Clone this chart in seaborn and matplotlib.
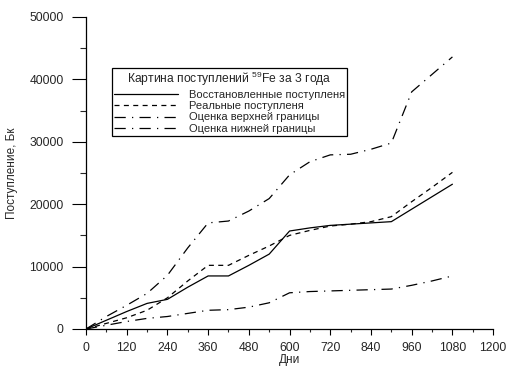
import pandas as pd
import matplotlib
matplotlib.use('Agg')
import matplotlib.pyplot as plt
import seaborn as sns
from matplotlib.ticker import MultipleLocator

# Data
days = [0, 60, 120, 180, 240, 300, 360, 420, 480, 540, 600,
        660, 720, 780, 840, 900, 960, 1020, 1080]
restored = [0, 1400, 2800, 4100, 4750, 6700, 8500, 8500, 10200, 12000, 15700,
            16200, 16600, 16800, 17000, 17200, 19200, 21200, 23200]
real = [0, 900, 1800, 3000, 5000, 7700, 10200, 10200, 11800, 13300, 15000,
        15800, 16500, 16800, 17200, 18000, 20400, 22700, 25100]
upper = [0, 2000, 3800, 5700, 8600, 13000, 17000, 17300, 18900, 20900, 24700,
         26800, 27900, 28000, 28800, 29800, 38000, 40800, 43600]
lower = [0, 600, 1200, 1700, 2000, 2500, 3000, 3100, 3500, 4200, 5800,
         6000, 6100, 6200, 6300, 6400, 7000, 7700, 8500]

labels = ['Восстановленные поступленя', 'Реальные поступленя',
          'Оценка верхней границы', 'Оценка нижней границы']
styles = ['-', (0, (4, 3.5)), (0, (9, 5, 1, 5)), (0, (9, 5, 1, 5))]

sns.set_style('ticks')
plt.rcParams['font.family'] = ['Liberation Sans', 'DejaVu Sans']
plt.rcParams['mathtext.default'] = 'regular'

fig = plt.figure(figsize=(5.18, 3.81), dpi=100)
ax = fig.add_axes([0.166, 0.1365, 0.786, 0.819])

for vals, lab, ls in zip([restored, real, upper, lower], labels, styles):
    df = pd.DataFrame({'day': days, 'value': vals})
    sns.lineplot(data=df, x='day', y='value', ax=ax, color='black',
                 linewidth=0.9, linestyle=ls, label=lab)

ax.set_xlim(0, 1200)
ax.set_ylim(0, 50000)
ax.xaxis.set_major_locator(MultipleLocator(120))
ax.xaxis.set_minor_locator(MultipleLocator(60))
ax.yaxis.set_major_locator(MultipleLocator(10000))
ax.yaxis.set_minor_locator(MultipleLocator(5000))
ax.tick_params(axis='both', which='major', labelsize=8.7, width=0.8, color='black')
ax.tick_params(axis='x', which='major', length=4.5, pad=5)
ax.tick_params(axis='x', which='minor', length=2.5, width=0.8)
ax.tick_params(axis='y', which='major', length=10, pad=6)
ax.tick_params(axis='y', which='minor', length=4.5, width=0.8)
for side in ['left', 'bottom']:
    ax.spines[side].set_linewidth(0.9)
    ax.spines[side].set_color('black')
sns.despine(ax=ax)

ax.set_xlabel('Дни', fontsize=8.5, labelpad=0)
ax.set_ylabel('Поступление, Бк', fontsize=8.5, labelpad=8)

leg = ax.legend(title='Картина поступлений $^{59}$Fe за 3 года',
                loc='upper left', bbox_to_anchor=(0.064, 0.8365),
                borderaxespad=0,
                fontsize=8, title_fontsize=8.7, handlelength=5.7,
                handletextpad=1.0, labelspacing=0.12, borderpad=0.2,
                fancybox=False, framealpha=1, edgecolor='black')
leg.get_frame().set_linewidth(0.9)

fig.savefig('out.png', dpi=100)
